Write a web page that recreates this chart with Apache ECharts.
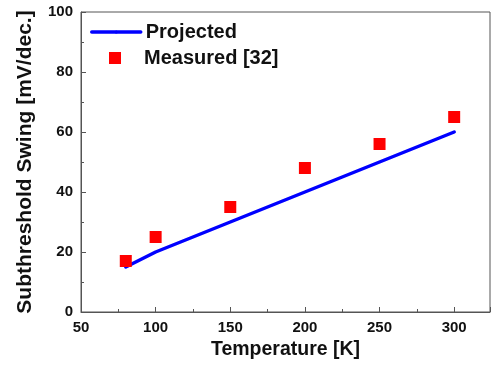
<!DOCTYPE html>
<html><head><meta charset="utf-8">
<script src="https://cdn.jsdelivr.net/npm/echarts@6/dist/echarts.min.js"></script>
<style>html,body{margin:0;padding:0;background:#fff}#c{width:493px;height:374px}</style>
</head><body><div id="c"></div>
<script>
const projectedT = [80, 100, 150, 200, 250, 300];
const projectedSS = [15, 20, 30, 40, 50, 60];
const measuredT = [80, 100, 150, 200, 250, 300];
const measuredSS = [17, 25, 35, 48, 56, 65];
const xTitle = 'Temperature [K]';
const yTitle = 'Subthreshold Swing [mV/dec.]';

const chart = echarts.init(document.getElementById('c'), null, {renderer: 'canvas'});
const font = 'Liberation Sans, Arial, sans-serif';
const axisCol = '#555';
chart.setOption({
  animation: false,
  grid: {left: 81, right: 2, top: 12, bottom: 62, show: true, borderColor: axisCol, borderWidth: 1},
  legend: [{
    data: ['Projected'], left: 90, top: 22, padding: 0, itemWidth: 49, itemHeight: 4,
    lineStyle: {width: 3.5},
    textStyle: {fontFamily: font, fontWeight: 'bold', fontSize: 20, color: '#111'}
  }, {
    data: ['Measured [32]'], left: 109, top: 48, padding: 0, itemWidth: 12, itemHeight: 12,
    textStyle: {fontFamily: font, fontWeight: 'bold', fontSize: 20, color: '#111', padding: [0, 0, 0, 18]}
  }],
  xAxis: {
    type: 'value', min: 50, max: 324, interval: 50,
    name: xTitle, nameLocation: 'middle', nameGap: 28,
    nameTextStyle: {fontFamily: font, fontWeight: 'bold', fontSize: 19.5, color: '#111'},
    axisLine: {lineStyle: {color: axisCol}},
    axisTick: {inside: true, length: 5, lineStyle: {color: axisCol}},
    minorTick: {show: true, splitNumber: 2, length: 3, lineStyle: {color: axisCol}},
    splitLine: {show: false},
    axisLabel: {fontFamily: font, fontWeight: 'bold', fontSize: 15, color: '#111', margin: 8,
      formatter: v => (v % 50 === 0 && v <= 300) ? String(v) : ''}
  },
  yAxis: {
    type: 'value', min: 0, max: 100, interval: 20,
    name: yTitle, nameLocation: 'middle', nameGap: 45,
    nameTextStyle: {fontFamily: font, fontWeight: 'bold', fontSize: 21, color: '#111'},
    axisLine: {show: true, lineStyle: {color: axisCol}},
    axisTick: {show: true, inside: true, length: 5, lineStyle: {color: axisCol}},
    minorTick: {show: true, splitNumber: 2, length: 3, lineStyle: {color: axisCol}},
    splitLine: {show: false},
    axisLabel: {fontFamily: font, fontWeight: 'bold', fontSize: 15, color: '#111', margin: 8}
  },
  series: [{
    name: 'Projected', type: 'line', data: projectedT.map((t, i) => [t, projectedSS[i]]),
    showSymbol: false, symbol: 'none', lineStyle: {color: '#0000ff', width: 3.5, cap: 'round'}, itemStyle: {color: '#0000ff'}, z: 2
  }, {
    name: 'Measured [32]', type: 'scatter', data: measuredT.map((t, i) => [t, measuredSS[i]]),
    symbol: 'rect', symbolSize: 12, itemStyle: {color: '#ff0000', opacity: 1}, z: 3
  }]
});
</script></body></html>
